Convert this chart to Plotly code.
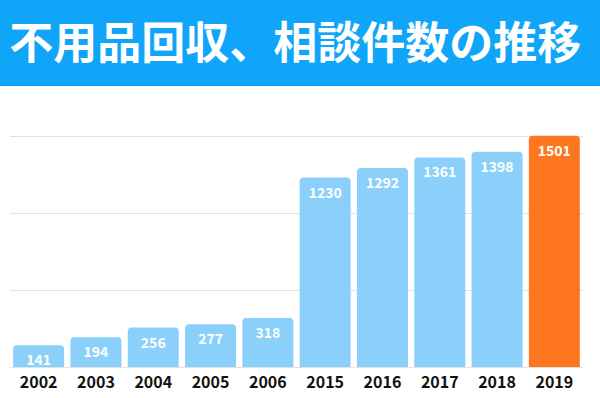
import plotly.graph_objects as go

years = ["2002", "2003", "2004", "2005", "2006", "2015", "2016", "2017", "2018", "2019"]
counts = [141, 194, 256, 277, 318, 1230, 1292, 1361, 1398, 1501]
bar_colors = ["#8ad0fb"] * 9 + ["#ff7621"]
title_text = "不用品回収、相談件数の推移"

FONT = "Noto Sans CJK JP"

fig = go.Figure()
fig.add_trace(go.Bar(
    x=years, y=counts,
    marker=dict(color=bar_colors, line=dict(width=0), cornerradius=4),
    text=[str(v) for v in counts],
    textposition="inside", insidetextanchor="end",
    textfont=dict(family=FONT, size=14, color="white", weight=700),
    hoverinfo="x+y",
))

L, R, T, B = 10, 17, 128, 31
H = 398
ph = H - T - B
fig.update_layout(
    width=600, height=398,
    margin=dict(l=L, r=R, t=T, b=B),
    paper_bgcolor="white", plot_bgcolor="white",
    bargap=0.11,
    uniformtext=dict(minsize=14, mode="show"),
    showlegend=False,
    font=dict(family=FONT),
    xaxis=dict(
        type="category", showgrid=False, showline=False, zeroline=False,
        ticks="", tickfont=dict(family=FONT, size=16, color="#111", weight=700),
        ticklabelstandoff=4, automargin=False,
    ),
    yaxis=dict(
        range=[0, 1552], tickvals=[0, 500, 1000, 1500], showticklabels=False,
        showgrid=True, gridcolor="#e2e2e2", gridwidth=1,
        zeroline=True, zerolinecolor="#e2e2e2", zerolinewidth=1,
        automargin=False,
    ),
    shapes=[dict(
        type="rect", xref="paper", yref="paper",
        x0=-0.1, x1=1.1, y0=(H - B - 86) / ph, y1=(H - B) / ph + 0.05,
        fillcolor="#10a5f8", line=dict(width=0), layer="below",
    )],
    title=dict(
        text=title_text, x=0.492, xanchor="center", xref="container",
        y=1 - 44 / H, yanchor="middle", yref="container",
        font=dict(family=FONT, size=44, color="white", weight=700),
        automargin=False,
    ),
)

fig.write_html(
    "out.html",
    config={"displayModeBar": False},
    post_script="document.body.style.margin='0';",
)
